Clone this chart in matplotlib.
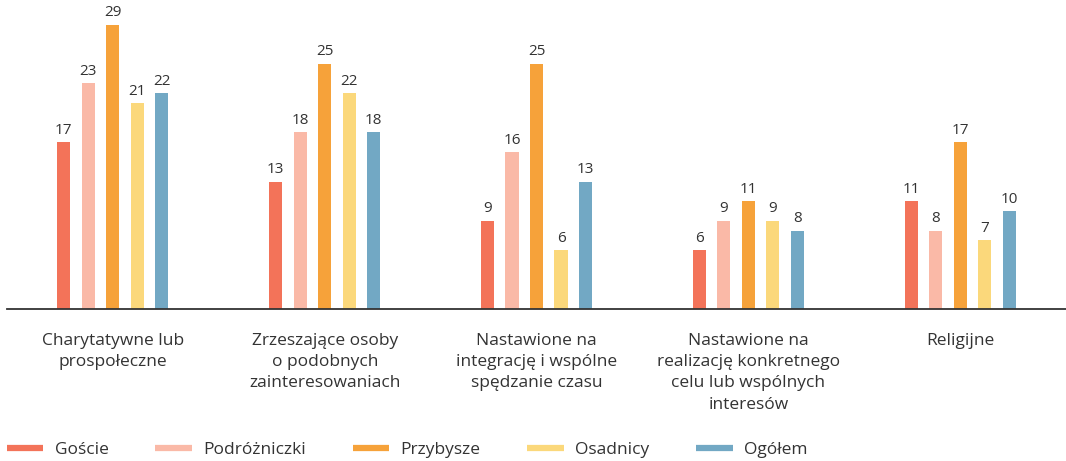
import matplotlib.pyplot as plt
import numpy as np
from matplotlib.lines import Line2D

plt.rcParams['font.family'] = ['Open Sans', 'DejaVu Sans']

categories = ['Charytatywne lub\nprospołeczne',
              'Zrzeszające osoby\no podobnych\nzainteresowaniach',
              'Nastawione na\nintegrację i wspólne\nspędzanie czasu',
              'Nastawione na\nrealizację konkretnego\ncelu lub wspólnych\ninteresów',
              'Religijne']
series_names = ['Goście', 'Podróżniczki', 'Przybysze', 'Osadnicy', 'Ogółem']
goscie = [17, 13, 9, 6, 11]
podrozniczki = [23, 18, 16, 9, 8]
przybysze = [29, 25, 25, 11, 17]
osadnicy = [21, 22, 6, 9, 7]
ogolem = [22, 18, 13, 8, 10]
colors = ['#F37359', '#FAB9A7', '#F6A23A', '#FBD87B', '#72A8C4']

series = [goscie, podrozniczki, przybysze, osadnicy, ogolem]

fig = plt.figure(figsize=(10.66, 4.61), dpi=100)
ax = fig.add_axes([7/1066, 1 - 309/461, 1059/1066, 304/461])

x = np.arange(len(categories))
width = 0.062
step = 0.1157
for i, (vals, col) in enumerate(zip(series, colors)):
    pos = x + (i - 2) * step
    ax.bar(pos, vals, width, color=col)
    for p, v in zip(pos, vals):
        ax.text(p, v + 0.45, str(v), ha='center', va='bottom',
                fontsize=11, color='#333333')

ax.set_xlim(-0.5, 4.5)
ax.set_ylim(0, 31)
ax.set_yticks([])
ax.set_xticks(x)
ax.set_xticklabels(categories, fontsize=12.5, color='#333333', linespacing=1.45)
ax.tick_params(axis='x', length=0, pad=17)
for s in ['top', 'right', 'left']:
    ax.spines[s].set_visible(False)
ax.spines['bottom'].set_color('#333333')
ax.spines['bottom'].set_linewidth(1.3)

handles = [Line2D([0], [0], color=c, lw=4.5, solid_capstyle='butt') for c in colors]
fig.legend(handles, series_names, loc='center left',
           bbox_to_anchor=(7/1066, 1 - 450/461), ncol=5, frameon=False,
           fontsize=12.5, handlelength=2.1, handletextpad=0.65,
           columnspacing=2.7, borderpad=0, borderaxespad=0,
           labelcolor='#333333')

fig.savefig('out.png', dpi=100)
